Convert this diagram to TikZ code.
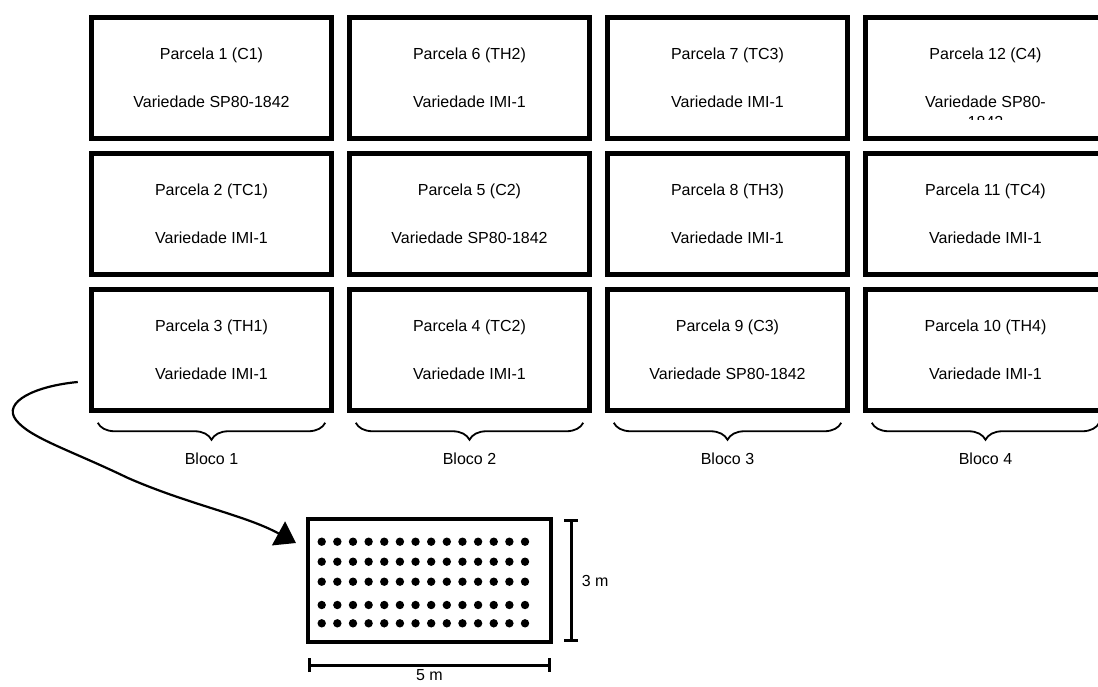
\documentclass[tikz,border=0pt]{standalone}
\usepackage{fontspec}
\setmainfont{Liberation Sans}
\usetikzlibrary{positioning,arrows.meta,decorations.pathreplacing,calc}

\begin{document}
\begin{tikzpicture}[
	x=1pt,y=-1pt,
	>=Stealth,
	node distance=14.5pt and 18.5pt,
	parcela/.style={
		rectangle,
		draw,
		line width=4.8pt,
		outer sep=0pt,
		inner sep=0pt,
		align=center,
		font=\fontsize{16}{48}\selectfont,
		minimum width=239.5pt,
		minimum height=121.5pt
	},
	chave/.style={
		draw,
		line width=1.8pt,
		decorate,
		decoration={brace,mirror,amplitude=17pt}
	},
	rotulo/.style={font=\fontsize{16}{19}\selectfont},
	cota/.style={line width=3pt,{Bar[width=14pt]}-{Bar[width=14pt]}}
	]
	\clip (0,0) rectangle (1098,686);
	
	% parcelas
	\node[parcela] (p1) at (211.5,78) {Parcela 1 (C1)\\Variedade SP80-1842};
	\node[parcela] (p6) [right=of p1] {Parcela 6 (TH2)\\Variedade IMI-1};
	\node[parcela] (p7) [right=of p6] {Parcela 7 (TC3)\\Variedade IMI-1};
	\node[parcela] (p12) [right=of p7] {Parcela 12 (C4)\\Variedade SP80-};
	\node[parcela] (p2) [below=of p1] {Parcela 2 (TC1)\\Variedade IMI-1};
	\node[parcela] (p5) [below=of p6] {Parcela 5 (C2)\\Variedade SP80-1842};
	\node[parcela] (p8) [below=of p7] {Parcela 8 (TH3)\\Variedade IMI-1};
	\node[parcela] (p11) [below=of p12] {Parcela 11 (TC4)\\Variedade IMI-1};
	\node[parcela] (p3) [below=of p2] {Parcela 3 (TH1)\\Variedade IMI-1};
	\node[parcela] (p4) [below=of p5] {Parcela 4 (TC2)\\Variedade IMI-1};
	\node[parcela] (p9) [below=of p8] {Parcela 9 (C3)\\Variedade SP80-1842};
	\node[parcela] (p10) [below=of p11] {Parcela 10 (TH4)\\Variedade IMI-1};
	\begin{scope}
		\clip ($(p12.north west)+(3,3)$) rectangle ($(p12.east)+(0,41)$);
		\node[rotulo,anchor=base] (resto) at ($(p12.center)+(0,49)$) {1842};
	\end{scope}
	
	% blocos
	\foreach \p/\b in {p3/1,p4/2,p9/3,p10/4}{
		\draw[chave] ($(\p.south west)+(6,12)$) -- ($(\p.south east)+(-6,12)$);
		\node[rotulo] (bloco\b) at ($(\p.south)+(0,48)$) {Bloco \b};
	}
	
	% parcela ampliada
	\node[draw,line width=4pt,minimum width=243pt,minimum height=123pt,outer sep=0pt] (plot) at (429.5,580.5) {};
	\foreach \r in {541.7,561.7,581.7,605,623.3}
		\foreach \c in {0,...,13}
			\fill (321.7+15.64*\c,\r) circle (4.2pt);
	
	\draw[cota] ([xshift=20pt]plot.north east) -- node[rotulo,right=6pt] (alt) {3 m} ([xshift=20pt]plot.south east);
	\draw[cota] ([yshift=-23pt]plot.south west) -- node[rotulo,below=2pt,inner sep=1pt] (larg) {5 m} ([yshift=-23pt]plot.south east);
	
	\coordinate (ini) at ($(p3.west)+(-14,32)$);
	\coordinate (fim) at ($(plot.west)+(-12,-37.5)$);
	\draw[line width=2.2pt,-{Triangle[length=20pt,width=27pt]}] (ini) .. controls (35,386) and (2,402) .. (16,420)
		.. controls (30,438) and (70,450) .. (128,478) .. controls (190,505) and (245,515) .. (fim);
	
\end{tikzpicture}
\end{document}
